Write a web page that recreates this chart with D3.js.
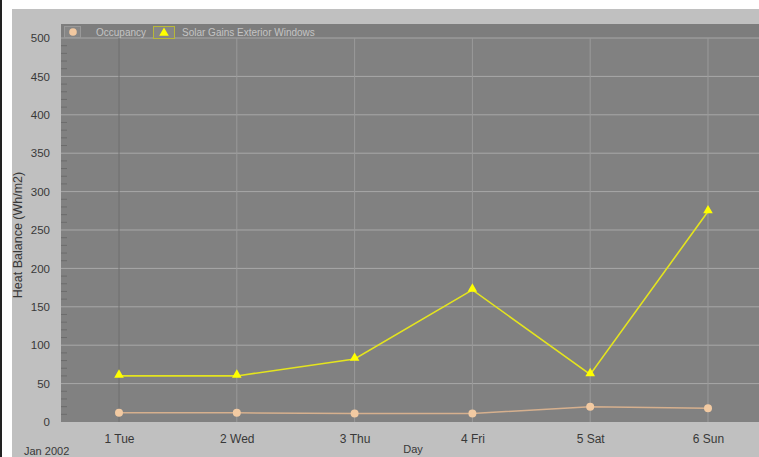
<!DOCTYPE html>
<html>
<head>
<meta charset="utf-8">
<script src="https://cdn.jsdelivr.net/npm/d3@7"></script>
<style>
  html, body { margin: 0; padding: 0; background: #ffffff; }
  svg { display: block; font-family: "Liberation Sans", Arial, sans-serif; }
</style>
</head>
<body>
<svg id="chart" width="759" height="457"></svg>
<script>
// Daily heat balance, first week of January 2002
const days = ["1 Tue", "2 Wed", "3 Thu", "4 Fri", "5 Sat", "6 Sun"];
const occupancy = [12, 12, 11, 11, 20, 18];
const solarGains = [60, 60, 82, 172, 62, 274];
const yTicks = [0, 50, 100, 150, 200, 250, 300, 350, 400, 450, 500];
const seriesNames = ["Occupancy", "Solar Gains Exterior Windows"];

const svg = d3.select("#chart");
const W = 759, H = 457;

// outer frame: thin dark rule on the left, light grey panel
svg.append("rect").attr("x", 0).attr("y", 0).attr("width", 2).attr("height", H).attr("fill", "#222");
svg.append("rect").attr("x", 12).attr("y", 9).attr("width", W - 12).attr("height", H - 9).attr("fill", "#c0c0c0");

const plot = { left: 61, top: 24, right: 759, bottom: 422 };
const legendBand = 14;

const x = d3.scalePoint().domain(days).range([119, 708]);
const y = d3.scaleLinear().domain([0, 500]).range([plot.bottom, plot.top + legendBand]);

// plot background
svg.append("rect")
  .attr("x", plot.left).attr("y", plot.top)
  .attr("width", plot.right - plot.left).attr("height", plot.bottom - plot.top)
  .attr("fill", "#818181");
svg.append("rect")
  .attr("x", plot.left).attr("y", plot.top)
  .attr("width", plot.right - plot.left).attr("height", legendBand)
  .attr("fill", "#7d7d7d");

// horizontal grid
svg.append("g").selectAll("line").data(yTicks.filter(d => d > 0)).join("line")
  .attr("x1", plot.left).attr("x2", plot.right)
  .attr("y1", d => y(d)).attr("y2", d => y(d))
  .attr("stroke", "#a8a8a8").attr("stroke-width", 1);

// vertical grid
svg.append("g").selectAll("line").data(days).join("line")
  .attr("x1", d => x(d)).attr("x2", d => x(d))
  .attr("y1", y(500)).attr("y2", plot.bottom)
  .attr("stroke", (d, i) => i === 0 ? "#6e6e6e" : "#9a9a9a").attr("stroke-width", 1);

// minor ticks along the inside of the value axis
const minor = d3.range(0, 501, 10).filter(d => d % 50 !== 0);
svg.append("g").selectAll("line").data(minor).join("line")
  .attr("x1", plot.left).attr("x2", plot.left + 6)
  .attr("y1", d => y(d)).attr("y2", d => y(d))
  .attr("stroke", "#6c6c6c").attr("stroke-width", 1);

// value axis labels
const yAxis = d3.axisLeft(y).tickValues(yTicks).tickSize(0).tickPadding(11);
const yg = svg.append("g").attr("transform", `translate(${plot.left},0)`).call(yAxis);
yg.select(".domain").remove();
yg.selectAll("text").attr("fill", "#383838").attr("font-size", 11.5);

// category axis labels
const xAxis = d3.axisBottom(x).tickSize(0).tickPadding(12);
const xg = svg.append("g").attr("transform", `translate(0,${plot.bottom})`).call(xAxis);
xg.select(".domain").remove();
xg.selectAll("text").attr("fill", "#383838").attr("font-size", 12);

// axis titles
svg.append("text")
  .attr("transform", `translate(22,235) rotate(-90)`)
  .attr("text-anchor", "middle").attr("fill", "#383838").attr("font-size", 12.5)
  .text("Heat Balance (Wh/m2)");
svg.append("text").attr("x", 24).attr("y", 455)
  .attr("fill", "#383838").attr("font-size", 11).text("Jan 2002");
svg.append("text").attr("x", 413).attr("y", 453)
  .attr("text-anchor", "middle").attr("fill", "#383838").attr("font-size", 11).text("Day");

// series lines
const line = d3.line().x((d, i) => x(days[i])).y(d => y(d));
svg.append("path").datum(occupancy).attr("d", line)
  .attr("fill", "none").attr("stroke", "#d6b08e").attr("stroke-width", 1.5);
svg.append("path").datum(solarGains).attr("d", line)
  .attr("fill", "none").attr("stroke", "#e4e41e").attr("stroke-width", 1.6);

// markers
svg.append("g").selectAll("circle").data(occupancy).join("circle")
  .attr("cx", (d, i) => x(days[i])).attr("cy", d => y(d)).attr("r", 4)
  .attr("fill", "#f2caa2");
const tri = d3.symbol().type(d3.symbolTriangle).size(40);
svg.append("g").selectAll("path").data(solarGains).join("path")
  .attr("transform", (d, i) => `translate(${x(days[i])},${y(d) - 1})`)
  .attr("d", tri).attr("fill", "#ffff00");

// legend
const lg = svg.append("g");
lg.append("rect").attr("x", 64.5).attr("y", 26.5).attr("width", 16).attr("height", 11)
  .attr("fill", "#868686").attr("stroke", "#999").attr("stroke-width", 1);
lg.append("circle").attr("cx", 73).attr("cy", 32).attr("r", 3.8).attr("fill", "#f2c8a0");
lg.append("text").attr("x", 96).attr("y", 35.5).attr("fill", "#c4c4c4").attr("font-size", 10)
  .text(seriesNames[0]);
lg.append("rect").attr("x", 153.5).attr("y", 26.5).attr("width", 21).attr("height", 12)
  .attr("fill", "#868686").attr("stroke", "#b8b83a").attr("stroke-width", 1);
lg.append("path").attr("transform", "translate(164,33)").attr("d", tri).attr("fill", "#ffff00");
lg.append("text").attr("x", 182).attr("y", 35.5).attr("fill", "#c4c4c4").attr("font-size", 10)
  .text(seriesNames[1]);
</script>
</body>
</html>
